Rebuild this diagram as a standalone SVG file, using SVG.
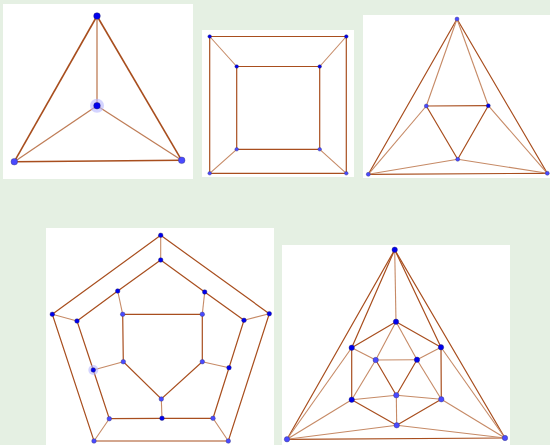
<svg xmlns="http://www.w3.org/2000/svg" width="550" height="445" viewBox="0 0 550 445">
<style>
.bg{fill:#e5f0e3}
.panel{fill:#ffffff}
.e{stroke:#a84e1e;stroke-width:1.2;fill:none;stroke-linecap:round}
.e1{stroke:#a84e1e;stroke-width:1.6;fill:none}
.e2{stroke:#bf7d57;stroke-width:1.3;fill:none}
.el{stroke:#c68a66;stroke-width:1.1;fill:none}
.n{fill:#0000ee;stroke:#222266;stroke-width:0.4}
.m{fill:#4a4aff;stroke:#333377;stroke-width:0.4}
.halo{fill:#b8b8ff;opacity:0.6}
</style>
<rect class="bg" x="0" y="0" width="550" height="445"/>
<rect class="panel" x="3" y="4" width="190" height="175"/>
<rect class="panel" x="202" y="30" width="152" height="147"/>
<rect class="panel" x="363" y="15" width="187" height="163"/>
<rect class="panel" x="46" y="228" width="228" height="217"/>
<rect class="panel" x="282" y="245" width="228" height="200"/>

<g id="connectors">
<!-- panel 1 tetrahedron -->
<line class="e1" x1="97" y1="16" x2="14.3" y2="161.7"/>
<line class="e1" x1="97" y1="16" x2="181.7" y2="160.3"/>
<line class="e1" x1="14.3" y1="161.7" x2="181.7" y2="160.3"/>
<line class="e2" x1="97" y1="16" x2="97" y2="105.7"/>
<line class="e2" x1="97" y1="105.7" x2="14.3" y2="161.7"/>
<line class="e2" x1="97" y1="105.7" x2="181.7" y2="160.3"/>
<!-- panel 2 cube -->
<line class="e" x1="209.7" y1="36.5" x2="346.3" y2="36.5"/>
<line class="e" x1="346.3" y1="36.5" x2="346.3" y2="173.3"/>
<line class="e" x1="346.3" y1="173.3" x2="209.7" y2="173.3"/>
<line class="e" x1="209.7" y1="173.3" x2="209.7" y2="36.5"/>
<line class="e" x1="236.7" y1="66.5" x2="319.7" y2="66.5"/>
<line class="e" x1="319.7" y1="66.5" x2="319.7" y2="149.3"/>
<line class="e" x1="319.7" y1="149.3" x2="236.7" y2="149.3"/>
<line class="e" x1="236.7" y1="149.3" x2="236.7" y2="66.5"/>
<line class="el" x1="209.7" y1="36.5" x2="236.7" y2="66.5"/>
<line class="el" x1="346.3" y1="36.5" x2="319.7" y2="66.5"/>
<line class="el" x1="346.3" y1="173.3" x2="319.7" y2="149.3"/>
<line class="el" x1="209.7" y1="173.3" x2="236.7" y2="149.3"/>
<!-- panel 3 octahedron -->
<line class="e" x1="457" y1="19" x2="368.3" y2="174.3"/>
<line class="e" x1="457" y1="19" x2="547.3" y2="173.3"/>
<line class="e" x1="368.3" y1="174.3" x2="547.3" y2="173.3"/>
<line class="el" x1="457" y1="19" x2="426.3" y2="106"/>
<line class="el" x1="457" y1="19" x2="488.3" y2="105.7"/>
<line class="e" x1="426.3" y1="106" x2="488.3" y2="105.7"/>
<line class="e" x1="426.3" y1="106" x2="457.7" y2="159.3"/>
<line class="e" x1="488.3" y1="105.7" x2="457.7" y2="159.3"/>
<line class="el" x1="368.3" y1="174.3" x2="426.3" y2="106"/>
<line class="el" x1="368.3" y1="174.3" x2="457.7" y2="159.3"/>
<line class="el" x1="547.3" y1="173.3" x2="488.3" y2="105.7"/>
<line class="el" x1="547.3" y1="173.3" x2="457.7" y2="159.3"/>
<!-- panel 4 dodecahedron -->
<polygon class="e" points="160.7,235.3 269.3,313.7 228.3,441 94,441 52.3,314.3"/>
<line class="el" x1="160.7" y1="235.3" x2="160.7" y2="260"/>
<line class="el" x1="269.3" y1="313.7" x2="244" y2="320.3"/>
<line class="el" x1="228.3" y1="441" x2="213" y2="418.3"/>
<line class="el" x1="94" y1="441" x2="109.3" y2="418.7"/>
<line class="el" x1="52.3" y1="314.3" x2="77" y2="321"/>
<polygon class="e" points="160.7,260 204.7,292 244,320.3 229,367.7 213,418.3 162,418.3 109.3,418.7 93.3,370 77,321 117.7,291"/>
<line class="el" x1="204.7" y1="292" x2="202.3" y2="314.3"/>
<line class="el" x1="229" y1="367.7" x2="202.3" y2="361.7"/>
<line class="el" x1="162" y1="418.3" x2="161.3" y2="399"/>
<line class="el" x1="93.3" y1="370" x2="123.3" y2="361.7"/>
<line class="el" x1="117.7" y1="291" x2="122.7" y2="314.3"/>
<polygon class="e" points="122.7,314.3 202.3,314.3 202.3,361.7 161.3,399 123.3,361.7"/>
<!-- panel 5 icosahedron -->
<line class="e" x1="394.7" y1="249.7" x2="287" y2="439.3"/>
<line class="e" x1="394.7" y1="249.7" x2="505" y2="438"/>
<line class="e" x1="287" y1="439.3" x2="505" y2="438"/>
<line class="el" x1="394.7" y1="249.7" x2="396" y2="321.7"/>
<line class="e" x1="394.7" y1="249.7" x2="351.7" y2="347.7"/>
<line class="e" x1="394.7" y1="249.7" x2="441" y2="347.3"/>
<line class="el" x1="287" y1="439.3" x2="351.7" y2="347.7"/>
<line class="el" x1="287" y1="439.3" x2="351.7" y2="399.7"/>
<line class="el" x1="287" y1="439.3" x2="396.7" y2="425.3"/>
<line class="el" x1="505" y1="438" x2="441" y2="347.3"/>
<line class="el" x1="505" y1="438" x2="441.3" y2="399.3"/>
<line class="el" x1="505" y1="438" x2="396.7" y2="425.3"/>
<line class="e" x1="396" y1="321.7" x2="351.7" y2="347.7"/>
<line class="e" x1="396" y1="321.7" x2="441" y2="347.3"/>
<line class="el" x1="396" y1="321.7" x2="375.7" y2="360"/>
<line class="el" x1="396" y1="321.7" x2="417" y2="359.7"/>
<line class="e" x1="351.7" y1="347.7" x2="351.7" y2="399.7"/>
<line class="el" x1="351.7" y1="347.7" x2="375.7" y2="360"/>
<line class="e" x1="441" y1="347.3" x2="441.3" y2="399.3"/>
<line class="el" x1="441" y1="347.3" x2="417" y2="359.7"/>
<line class="el" x1="351.7" y1="399.7" x2="375.7" y2="360"/>
<line class="el" x1="351.7" y1="399.7" x2="396.3" y2="395.3"/>
<line class="e" x1="351.7" y1="399.7" x2="396.7" y2="425.3"/>
<line class="el" x1="441.3" y1="399.3" x2="417" y2="359.7"/>
<line class="el" x1="441.3" y1="399.3" x2="396.3" y2="395.3"/>
<line class="e" x1="441.3" y1="399.3" x2="396.7" y2="425.3"/>
<line class="el" x1="375.7" y1="360" x2="417" y2="359.7"/>
<line class="e" x1="375.7" y1="360" x2="396.3" y2="395.3"/>
<line class="e" x1="417" y1="359.7" x2="396.3" y2="395.3"/>
<line class="el" x1="396.3" y1="395.3" x2="396.7" y2="425.3"/>
</g>

<g id="tetrahedron">
<circle class="halo" cx="97" cy="105.7" r="7"/>
<circle class="n" cx="97" cy="16" r="3.3"/>
<circle class="n" cx="97" cy="105.7" r="3.3"/>
<circle class="m" cx="14.3" cy="161.7" r="3.3"/>
<circle class="m" cx="181.7" cy="160.3" r="3.3"/>
</g>
<g id="cube">
<circle class="n" cx="209.7" cy="36.5" r="1.8"/>
<circle class="n" cx="346.3" cy="36.5" r="1.8"/>
<circle class="m" cx="209.7" cy="173.3" r="1.8"/>
<circle class="m" cx="346.3" cy="173.3" r="1.8"/>
<circle class="n" cx="236.7" cy="66.5" r="1.8"/>
<circle class="n" cx="319.7" cy="66.5" r="1.8"/>
<circle class="m" cx="236.7" cy="149.3" r="1.8"/>
<circle class="m" cx="319.7" cy="149.3" r="1.8"/>
</g>
<g id="octahedron">
<circle class="m" cx="457" cy="19" r="2"/>
<circle class="m" cx="368.3" cy="174.3" r="2"/>
<circle class="m" cx="547.3" cy="173.3" r="2"/>
<circle class="m" cx="426.3" cy="106" r="2"/>
<circle class="n" cx="488.3" cy="105.7" r="2"/>
<circle class="m" cx="457.7" cy="159.3" r="2"/>
</g>
<g id="dodecahedron">
<circle class="halo" cx="93.3" cy="370" r="5"/>
<circle class="n" cx="160.7" cy="235.3" r="2.3"/>
<circle class="n" cx="269.3" cy="313.7" r="2.3"/>
<circle class="m" cx="228.3" cy="441" r="2.3"/>
<circle class="m" cx="94" cy="441" r="2.3"/>
<circle class="n" cx="52.3" cy="314.3" r="2.3"/>
<circle class="n" cx="160.7" cy="260" r="2.3"/>
<circle class="n" cx="204.7" cy="292" r="2.3"/>
<circle class="n" cx="244" cy="320.3" r="2.3"/>
<circle class="n" cx="229" cy="367.7" r="2.3"/>
<circle class="m" cx="213" cy="418.3" r="2.3"/>
<circle class="n" cx="162" cy="418.3" r="2.3"/>
<circle class="m" cx="109.3" cy="418.7" r="2.3"/>
<circle class="n" cx="93.3" cy="370" r="2.3"/>
<circle class="n" cx="77" cy="321" r="2.3"/>
<circle class="n" cx="117.7" cy="291" r="2.3"/>
<circle class="m" cx="122.7" cy="314.3" r="2.3"/>
<circle class="m" cx="202.3" cy="314.3" r="2.3"/>
<circle class="m" cx="202.3" cy="361.7" r="2.3"/>
<circle class="m" cx="161.3" cy="399" r="2.3"/>
<circle class="m" cx="123.3" cy="361.7" r="2.3"/>
</g>
<g id="icosahedron">
<circle class="n" cx="394.7" cy="249.7" r="2.7"/>
<circle class="m" cx="287" cy="439.3" r="2.7"/>
<circle class="m" cx="505" cy="438" r="2.7"/>
<circle class="n" cx="396" cy="321.7" r="2.7"/>
<circle class="n" cx="351.7" cy="347.7" r="2.7"/>
<circle class="n" cx="441" cy="347.3" r="2.7"/>
<circle class="n" cx="351.7" cy="399.7" r="2.7"/>
<circle class="m" cx="441.3" cy="399.3" r="2.7"/>
<circle class="m" cx="396.7" cy="425.3" r="2.7"/>
<circle class="m" cx="375.7" cy="360" r="2.7"/>
<circle class="n" cx="417" cy="359.7" r="2.7"/>
<circle class="m" cx="396.3" cy="395.3" r="2.7"/>
</g>
</svg>
